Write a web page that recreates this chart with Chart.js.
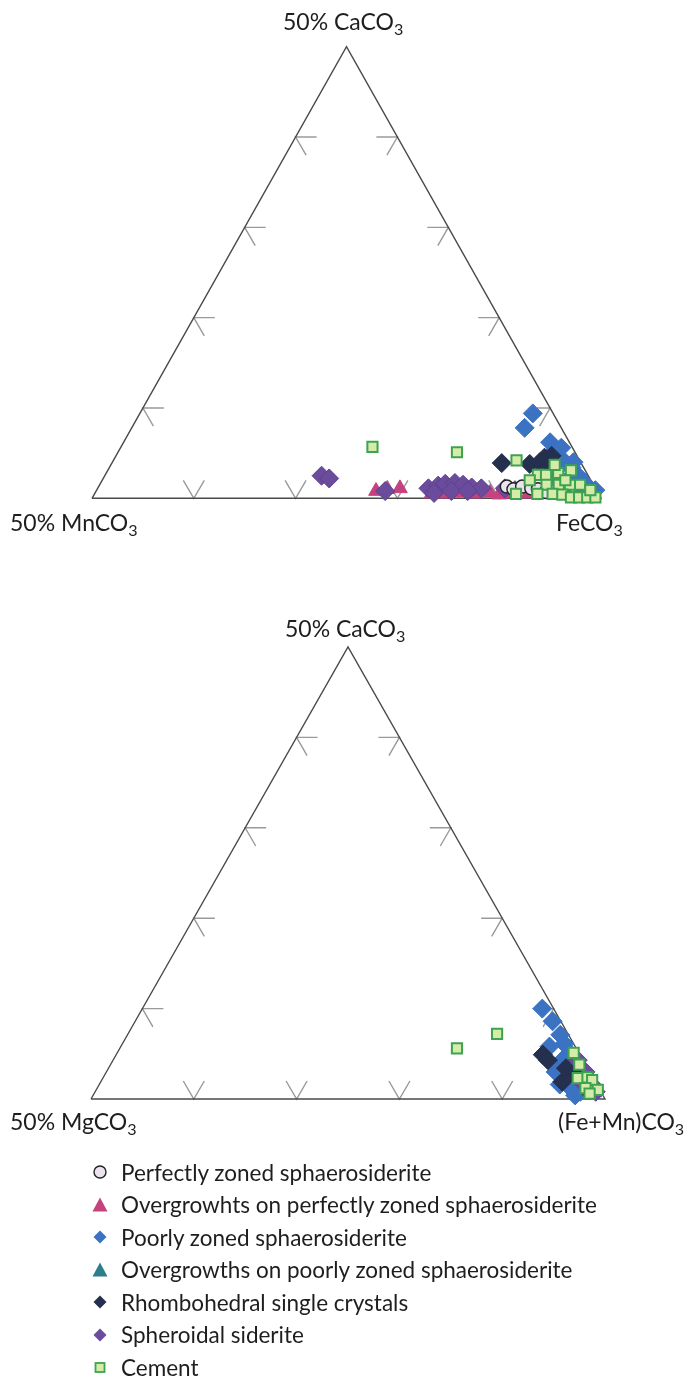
<!DOCTYPE html>
<html><head><meta charset="utf-8">
<script src="https://cdn.jsdelivr.net/npm/chart.js@4.4.1/dist/chart.umd.min.js"></script>
<style>
body{margin:0;background:#fff;width:688px;height:1385px;position:relative;overflow:hidden;font-family:Lato,"Open Sans",sans-serif;color:#1e1e1e}
canvas{position:absolute;left:0}
.lbl{position:absolute;font-size:23px;white-space:nowrap;line-height:1}
.lbl sub{font-size:0.7em;vertical-align:-0.3em;line-height:0}
#legend{position:absolute;left:90px;top:1156px;margin:0;padding:0;list-style:none}
#legend li{height:32.5px;display:flex;align-items:center;font-size:22.5px;white-space:nowrap}
#legend svg{width:20px;height:20px;margin-right:11px;flex:none}
</style></head><body>
<canvas id="c1" width="688" height="540" style="top:0"></canvas>
<canvas id="c2" width="688" height="540" style="top:600px"></canvas>
<div class="lbl" style="left:283px;top:9.5px">50% CaCO<sub>3</sub></div>
<div class="lbl" style="left:10px;top:510.5px">50% MnCO<sub>3</sub></div>
<div class="lbl" style="left:556px;top:510.5px">FeCO<sub>3</sub></div>
<div class="lbl" style="left:285px;top:617px">50% CaCO<sub>3</sub></div>
<div class="lbl" style="left:10px;top:1110px">50% MgCO<sub>3</sub></div>
<div class="lbl" style="left:558px;top:1110px">(Fe+Mn)CO<sub>3</sub></div>
<ul id="legend"></ul>
<script>
// ---- Category names ----
const categories = [
  "Perfectly zoned sphaerosiderite",
  "Overgrowhts on perfectly zoned sphaerosiderite",
  "Poorly zoned sphaerosiderite",
  "Overgrowths on poorly zoned sphaerosiderite",
  "Rhombohedral single crystals",
  "Spheroidal siderite",
  "Cement"
];
// ---- Axis tick fractions (each = 10% of the 50% side) ----
const tickFractions = [0.2, 0.4, 0.6, 0.8];

// ---- Upper diagram: [CaCO3 %, MnCO3 %] (FeCO3 = remainder) ----
const mnPerfectlyZoned = [[1.3,8.6],[1.0,8.1],[1.3,7.1],[1.1,6.3],[1.0,5.7],[0.7,5.1]];
const mnOvergrowthPerfect = [[0.8,21.7],[1.0,20.5],[1.1,19.2],[0.5,16.4],[0.5,15.0],[0.6,13.6],[0.5,12.1],[0.6,10.6],[0.4,9.8],[0.5,8.5],[0.5,6.9],[0.9,6.0]];
const mnPoorlyZoned = [[9.4,2.0],[7.8,3.6],[6.2,1.9],[5.3,1.9],[4.5,1.8],[3.9,1.5],[3.4,1.2],[2.5,1.0],[1.8,0.8],[4.0,3.2],[3.1,4.4],[0.9,0.6],[0.9,3.6],[2.2,3.9],[4.0,0.7],[5.6,1.1],[0.9,0.1],[2.3,1.9]];
const mnOvergrowthPoor = [[1.2,3.0],[0.6,2.0]];
const mnRhombohedral = [[3.9,7.8],[3.8,5.1],[4.5,3.3],[4.7,2.5],[4.0,4.0],[3.6,3.4]];
const mnSpheroidal = [[2.5,26.2],[2.2,25.6],[0.8,20.8],[1.1,16.4],[1.4,15.3],[1.6,14.5],[1.7,13.5],[1.5,12.8],[1.2,12.1],[1.1,11.2],[0.6,16.1],[0.8,14.3],[0.8,12.7],[1.1,8.9],[0.9,8.0]];
const mnCement = [[5.7,19.6],[5.1,11.6],[4.2,6.2],[2.6,4.9],[2.6,4.1],[2.8,2.8],[3.1,1.4],[1.5,4.6],[1.5,3.4],[1.5,2.3],[1.5,1.3],[0.5,8.1],[0.5,6.0],[0.5,4.5],[0.4,3.6],[0.1,2.9],[0.1,2.1],[0.1,1.3],[0.1,0.5],[2.0,2.5],[0.9,0.6],[2.0,6.0],[3.7,2.7]];

// ---- Lower diagram: [CaCO3 %, MgCO3 %] ((Fe+Mn)CO3 = remainder) ----
const mgPerfectlyZoned = [[1.0,1.2]];
const mgOvergrowthPerfect = [[0.7,0.7]];
const mgPoorlyZoned = [[10.0,1.1],[8.6,0.8],[7.1,0.8],[6.1,0.9],[5.1,0.9],[4.3,2.0],[3.0,3.3],[1.6,3.6],[1.1,2.7],[0.8,2.0],[5.8,2.5],[0.4,2.7],[2.3,2.4]];
const mgOvergrowthPoor = [[2.0,1.0]];
const mgRhombohedral = [[4.9,3.6],[4.3,3.4],[3.4,2.1],[1.9,3.2],[2.7,1.6]];
const mgSpheroidal = [[4.3,0.5],[3.0,0.4],[1.6,0.5],[1.9,1.3],[0.8,0.5]];
const mgCement = [[5.6,11.6],[7.2,6.9],[5.1,0.5],[3.8,0.6],[2.3,1.5],[2.4,0.5],[2.1,0.2],[1.0,0.2],[1.2,1.3],[0.6,1.2]];

// ---- Styles ----
const styles = [
  {pointStyle:'circle',   r:6.5, bg:'#ebe3ef', bd:'#222222', bw:1.4, order:3},
  {pointStyle:'triangle', r:8.5, bg:'#c4437f', bd:'#c4437f', bw:1,   order:5},
  {pointStyle:'rectRot',  r:9.5, bg:'#3b73c2', bd:'#3b73c2', bw:1,   order:7},
  {pointStyle:'triangle', r:8.5, bg:'#2d7e8b', bd:'#2d7e8b', bw:1,   order:6},
  {pointStyle:'rectRot',  r:9.5, bg:'#24304d', bd:'#24304d', bw:1,   order:2},
  {pointStyle:'rectRot',  r:9.5, bg:'#6b4b9b', bd:'#5e4190', bw:1,   order:4},
  {pointStyle:'rect',     r:7.2, bg:'#d5eba9', bd:'#3ea34f', bw:2,   order:1}
];

function toXY(pairs){ // pairs of [Ca%, other%] on a 50%-apex ternary
  return pairs.map(([ca, o]) => { const t = ca/50, l = o/50; return {x: 1 - l - t/2, y: t}; });
}

function makeChart(id, pad, seriesList){
  const W = 688 - pad.left - pad.right, H = 540 - pad.top - pad.bottom;
  const L = 21/W, dxs = 10.5/W, dys = 18.2/H, dxb = 10.5/W, dyb = 18/H;
  const tk = [];
  const gap = {x:null, y:null};
  tickFractions.forEach(f => {
    const lx = f/2, ly = f;
    tk.push({x:lx+L,y:ly},{x:lx,y:ly},{x:lx+dxs,y:ly-dys},gap);
    const rx = 1 - f/2;
    tk.push({x:rx-L,y:ly},{x:rx,y:ly},{x:rx-dxs,y:ly-dys},gap);
    tk.push({x:f-dxb,y:dyb},{x:f,y:0},{x:f+dxb,y:dyb},gap);
  });
  const datasets = seriesList.map((s,i) => ({
    label: categories[i], data: toXY(s), showLine:false,
    pointStyle: styles[i].pointStyle, pointRadius: styles[i].r,
    backgroundColor: styles[i].bg, borderColor: styles[i].bd, borderWidth: styles[i].bw,
    clip:false, order: styles[i].order
  }));
  datasets.push({label:'frame', data:[{x:0,y:0},{x:1,y:0},{x:0.5,y:1},{x:0,y:0}], showLine:true,
    borderColor:'#4a4a4a', borderWidth:1.4, pointRadius:0, clip:false, order:20});
  datasets.push({label:'ticks', data:tk, showLine:true, spanGaps:false,
    borderColor:'#9a9a9a', borderWidth:1.4, pointRadius:0, clip:false, order:30});
  new Chart(document.getElementById(id), {
    type:'scatter',
    data:{datasets},
    options:{
      responsive:false, animation:false, events:[],
      layout:{padding:pad},
      plugins:{legend:{display:false}, tooltip:{enabled:false}},
      scales:{ x:{type:'linear',min:0,max:1,display:false}, y:{type:'linear',min:0,max:1,display:false} }
    }
  });
}

makeChart('c1', {left:92, right:87, top:46.7, bottom:41.7},
  [mnPerfectlyZoned, mnOvergrowthPerfect, mnPoorlyZoned, mnOvergrowthPoor, mnRhombohedral, mnSpheroidal, mnCement]);
makeChart('c2', {left:91, right:83, top:47, bottom:41},
  [mgPerfectlyZoned, mgOvergrowthPerfect, mgPoorlyZoned, mgOvergrowthPoor, mgRhombohedral, mgSpheroidal, mgCement]);

// ---- HTML legend ----
const markerSvg = [
  '<circle cx="10" cy="10" r="6" fill="#ebe3ef" stroke="#222" stroke-width="1.4"/>',
  '<polygon points="10,2.5 17.5,16.5 2.5,16.5" fill="#c4437f"/>',
  '<polygon points="10,3.5 16.5,10 10,16.5 3.5,10" fill="#3b73c2"/>',
  '<polygon points="10,2.5 17.5,16.5 2.5,16.5" fill="#2d7e8b"/>',
  '<polygon points="10,3.5 16.5,10 10,16.5 3.5,10" fill="#24304d"/>',
  '<polygon points="10,3.5 16.5,10 10,16.5 3.5,10" fill="#6b4b9b"/>',
  '<rect x="5.5" y="6" width="9" height="9" fill="#d5eba9" stroke="#3ea34f" stroke-width="1.8"/>'
];
const ul = document.getElementById('legend');
categories.forEach((c,i) => {
  const li = document.createElement('li');
  li.innerHTML = '<svg viewBox="0 0 20 20">' + markerSvg[i] + '</svg><span>' + c + '</span>';
  ul.appendChild(li);
});
</script>
</body></html>
